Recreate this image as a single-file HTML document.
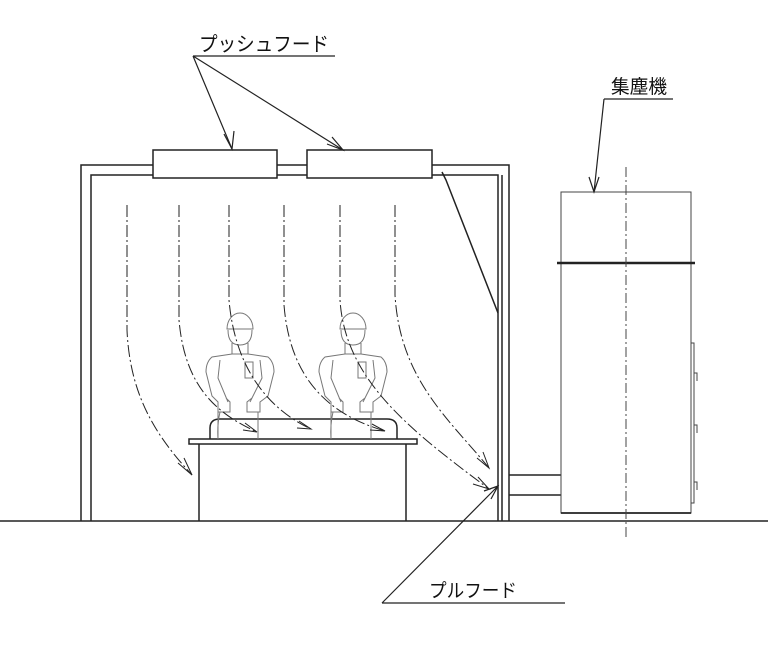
<!DOCTYPE html>
<html><head><meta charset="utf-8"><style>
html,body{margin:0;padding:0;background:#fff}
svg{display:block}
text{font-family:"Liberation Sans","Noto Sans CJK JP",sans-serif;fill:#111}
</style></head><body>
<svg width="768" height="646" viewBox="0 0 768 646" xmlns="http://www.w3.org/2000/svg">
<defs>
<g id="w" fill="none" stroke="#777" stroke-width="1">
<path d="M-13,329 A13,16 0 0 1 13,329 L-13,329 Z"/>
<path d="M-12,330 Q-12,345 0,345 Q12,345 12,330"/>
<path d="M-8,343 L-8,354 M8,343 L8,354"/>
<path d="M-8,354 L-28,357 Q-34,362 -34,372 L-28,396 L-22,402 L-22,412 L-10,412 L-10,402 L-14,398 M-20,360 L-22,378 L-12,402"/>
<path d="M8,354 L28,357 Q34,362 34,372 L28,396 L20,402 L20,412 L7,412 L7,402 L12,398 M20,360 L22,378 L10,402"/>
<path d="M-8,354 L8,354"/>
<rect x="5" y="362" width="8" height="16"/>
<path d="M-22,412 L-22,439 M-20,412 Q-23,425 -22,439 M18,412 L18,439"/>
</g>
</defs>
<g stroke="#222" fill="none" stroke-width="1.5">
<!-- ground -->
<line x1="0" y1="521" x2="768" y2="521"/>
<!-- frame -->
<path d="M81,521 L81,165 L153,165 M277,165 L307,165 M432,165 L509,165 L509,521"/>
<path d="M91,521 L91,175 L153,175 M277,175 L307,175 M432,175 L498,175 L498,521"/>
<line x1="502" y1="175" x2="502" y2="521"/>
<path d="M442,172 L446,180 L498,313"/>
<!-- push hoods -->
<rect x="153" y="150" width="124" height="28"/>
<rect x="307" y="150" width="125" height="28"/>
<!-- duct -->
<path d="M509,475 L561,475 M509,495 L561,495"/>
<!-- table -->
<rect x="189" y="439" width="228" height="5"/>
<path d="M199,444 L199,521 M406,444 L406,521"/>
<path d="M210,439 L210,428 Q210,419 220,419 L387,419 Q397,419 397,428 L397,439"/>
</g>
<!-- collector -->
<g stroke="#444" fill="none" stroke-width="1">
<rect x="561" y="192" width="130" height="321"/>
<line x1="557" y1="263" x2="695" y2="263" stroke-width="2.5" stroke="#222"/>
<line x1="561" y1="513" x2="691" y2="513" stroke-width="1.8" stroke="#222"/>
<line x1="626" y1="167" x2="626" y2="540" stroke-dasharray="10,3,2,3"/>
<rect x="691" y="343" width="3" height="160"/>
<path d="M694,373 l3,0 l0,8 M694,425 l3,0 l0,8 M694,482 l3,0 l0,8"/>
</g>
<use href="#w" x="240" y="0"/>
<use href="#w" x="353" y="0"/>
<!-- airflows -->
<g stroke="#222" fill="none" stroke-width="1" stroke-dasharray="12,3,2,3">
<path d="M127,205 L127,330 C130,400 160,440 192,475"/>
<path d="M179,205 L179,320 C185,390 220,415 257,432"/>
<path d="M229,205 L229,300 C235,370 270,410 311,429"/>
<path d="M284,205 L284,305 C290,380 330,415 385,431"/>
<path d="M340,205 L340,300 C345,380 410,430 489,489"/>
<path d="M395,205 L395,295 C400,380 450,420 489,468"/>
</g>
<g stroke="#222" fill="none" stroke-width="1">
<path d="M178,463 L192,475 L184,458"/>
<path d="M243,430 L257,432 L245,423"/>
<path d="M297,428 L311,429 L299,421"/>
<path d="M370,430 L385,431 L372,424"/>
<path d="M473,484 L489,489 L478,477"/>
<path d="M477,458 L489,468 L483,452"/>
</g>
<!-- labels -->
<g stroke="#222" fill="none" stroke-width="1.2">
<path d="M193,56 L335,56 M193,56 L232,149 M193,56 L343,150"/>
<path d="M224,134 L232,149 L234,131 M327,144 L343,150 L332,137"/>
<path d="M604,99 L673,99 M604,99 L594,192 M589,177 L594,192 L599,177"/>
<path d="M382,603 L565,603 M382,603 L498,486 M484,491 L498,486 L491,499"/>
</g>
<text x="199" y="51" font-size="20" textLength="130" lengthAdjust="spacingAndGlyphs">プッシュフード</text>
<text x="611" y="93" font-size="19" textLength="56" lengthAdjust="spacingAndGlyphs">集塵機</text>
<text x="429" y="597" font-size="19" textLength="88" lengthAdjust="spacingAndGlyphs">プルフード</text>
</svg>
</body></html>
